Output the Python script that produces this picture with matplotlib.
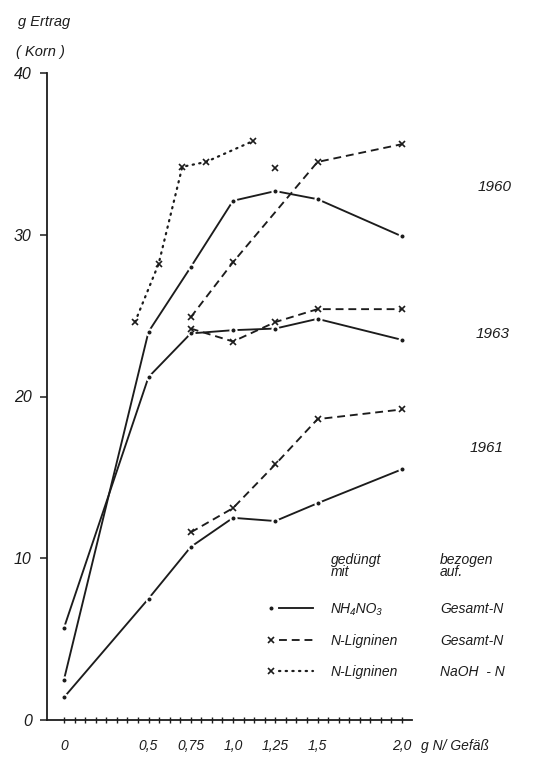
import numpy as np
import matplotlib
matplotlib.use("Agg")
import matplotlib.pyplot as plt
from matplotlib.lines import Line2D
from matplotlib.legend_handler import HandlerBase

plt.rcParams['font.family'] = ['Liberation Sans', 'DejaVu Sans']
plt.rcParams['font.style'] = 'italic'

# ---- data -------------------------------------------------------------
x_ticks = [0, 0.5, 0.75, 1.0, 1.25, 1.5, 2.0]
x_tick_labels = ["0", "0,5", "0,75", "1,0", "1,25", "1,5", "2,0"]
y_ticks = [0, 10, 20, 30, 40]
y_tick_labels = ["0", "10", "20", "30", "40"]

# 1960
nh4_1960_x = [0, 0.5, 0.75, 1.0, 1.25, 1.5, 2.0]
nh4_1960_y = [2.5, 24.0, 28.0, 32.1, 32.7, 32.2, 29.9]
lig_1960_x = [0.75, 1.0, 1.25, 1.5, 2.0]
lig_1960_y = [24.9, 28.3, 34.1, 34.5, 35.6]
lig_1960_curve = [True, True, False, True, True]   # points the drawn curve passes through
naoh_1960_x = [0.42, 0.56, 0.70, 0.84, 1.12]
naoh_1960_y = [24.6, 28.2, 34.2, 34.5, 35.8]

# 1963
nh4_1963_x = [0, 0.5, 0.75, 1.0, 1.25, 1.5, 2.0]
nh4_1963_y = [5.7, 21.2, 23.9, 24.1, 24.2, 24.8, 23.5]
lig_1963_x = [0.75, 1.0, 1.25, 1.5, 2.0]
lig_1963_y = [24.2, 23.4, 24.6, 25.4, 25.4]

# 1961
nh4_1961_x = [0, 0.5, 0.75, 1.0, 1.25, 1.5, 2.0]
nh4_1961_y = [1.4, 7.5, 10.7, 12.5, 12.3, 13.4, 15.5]
lig_1961_x = [0.75, 1.0, 1.25, 1.5, 2.0]
lig_1961_y = [11.6, 13.1, 15.8, 18.6, 19.2]

treatments = ["NH\u2084NO\u2083", "N-Ligninen", "N-Ligninen"]
references = ["Gesamt-N", "Gesamt-N", "NaOH  - N"]
years = ["1960", "1963", "1961"]

# ---- figure -----------------------------------------------------------
W, H = 542, 763
fig = plt.figure(figsize=(W / 100, H / 100), dpi=100)
fig.patch.set_facecolor("white")


def fx(px):
    return px / W


def fy(py):
    return 1 - py / H


ax = fig.add_axes([fx(47), fy(720), fx(412) - fx(47), fy(73) - fy(720)])
ax.set_xlim(-17 / 169, 348 / 169)
ax.set_ylim(0, 40)
for s in ("top", "right"):
    ax.spines[s].set_visible(False)
ink = "#1c1c1c"
for s in ("left", "bottom"):
    ax.spines[s].set_color(ink)
    ax.spines[s].set_linewidth(1.3)

lw = 1.35
dot_style = dict(marker="o", ms=4.4, mfc=ink, mec="white", mew=1.5)
x_style = dict(marker="x", ms=5, mec=ink, mew=1.2)
solid = dict(color=ink, lw=lw, linestyle="-", clip_on=False, zorder=3)
dashed = dict(color=ink, lw=lw, linestyle=(0, (4.2, 2.6)), clip_on=False, zorder=3)
dotted = dict(color=ink, lw=1.6, linestyle=(0, (0.6, 2.4)), clip_on=False, zorder=3,
              dash_capstyle="round")

h_nh4, = ax.plot(nh4_1960_x, nh4_1960_y, **solid, **dot_style)
ax.plot(nh4_1963_x, nh4_1963_y, **solid, **dot_style)
ax.plot(nh4_1961_x, nh4_1961_y, **solid, **dot_style)

# N-Lignin 1960: curve and measured points drawn separately
cx = [x for x, k in zip(lig_1960_x, lig_1960_curve) if k]
cy = [y for y, k in zip(lig_1960_y, lig_1960_curve) if k]
ax.plot(cx, cy, **dashed)
ax.plot(lig_1960_x, lig_1960_y, linestyle="none", clip_on=False, zorder=4, **x_style)
h_lig = Line2D([], [], **dashed, **x_style)
ax.plot(lig_1963_x, lig_1963_y, **dashed, **x_style)
ax.plot(lig_1961_x, lig_1961_y, **dashed, **x_style)

h_naoh, = ax.plot(naoh_1960_x, naoh_1960_y, **dotted, **x_style)

# ---- axes ticks -------------------------------------------------------
ax.set_yticks(y_ticks)
ax.set_yticklabels(y_tick_labels)
ax.tick_params(axis="y", direction="out", length=5, width=1.1, pad=6,
               labelsize=11.5, colors=ink)
ax.set_xticks(x_ticks)
ax.set_xticklabels(x_tick_labels)
ax.set_xticks(np.arange(0, 2.001, 1 / 16), minor=True)
ax.tick_params(axis="x", which="both", direction="inout", length=5, width=1.0,
               pad=11, labelsize=10, colors=ink)
for lab in ax.get_xticklabels() + ax.get_yticklabels():
    lab.set_fontstyle("italic")

# ---- texts ------------------------------------------------------------
fig.text(fx(18), fy(22), "g Ertrag", fontsize=10.5, color=ink, va="center", ha="left")
fig.text(fx(16), fy(52), "( Korn )", fontsize=10.5, color=ink, va="center", ha="left")
fig.text(fx(421), fy(746), "g N/ Gefäß", fontsize=10, color=ink, va="center", ha="left")

for label, (px, py) in zip(years, [(495, 187), (493, 334), (487, 448)]):
    fig.text(fx(px), fy(py), label, fontsize=11, color=ink, ha="center", va="center")

fig.text(fx(331), fy(566), "gedüngt\nmit", fontsize=10, color=ink, ha="left",
         va="center", linespacing=0.8)
fig.text(fx(440), fy(566), "bezogen\nauf.", fontsize=10, color=ink, ha="left",
         va="center", linespacing=0.8)


# ---- legend -----------------------------------------------------------
class KeyHandler(HandlerBase):
    def create_artists(self, legend, orig_handle, xdescent, ydescent, width,
                       height, fontsize, trans):
        y = height / 2 - ydescent
        x0 = -xdescent
        seg = Line2D([x0 + 0.2 * width, x0 + width], [y, y])
        seg.update_from(orig_handle)
        seg.set_marker("None")
        mark = Line2D([x0], [y])
        mark.update_from(orig_handle)
        mark.set_linestyle("None")
        for a in (seg, mark):
            a.set_transform(trans)
        return [seg, mark]


leg_kw = dict(frameon=False, fontsize=10, labelspacing=1.27, borderpad=0,
              borderaxespad=0, loc="upper left", bbox_transform=fig.transFigure,
              labelcolor=ink)
handles = [h_nh4, h_lig, h_naoh]
leg1 = fig.legend(handles, treatments, bbox_to_anchor=(fx(271), fy(602)),
                  handlelength=3.0, handletextpad=1.3,
                  handler_map={Line2D: KeyHandler()}, **leg_kw)
blank = [Line2D([], [], linestyle="none") for _ in references]
leg2 = fig.legend(blank, references, bbox_to_anchor=(fx(440), fy(602)),
                  handlelength=0, handletextpad=0, **leg_kw)

fig.savefig("out.png", dpi=100, facecolor="white")
